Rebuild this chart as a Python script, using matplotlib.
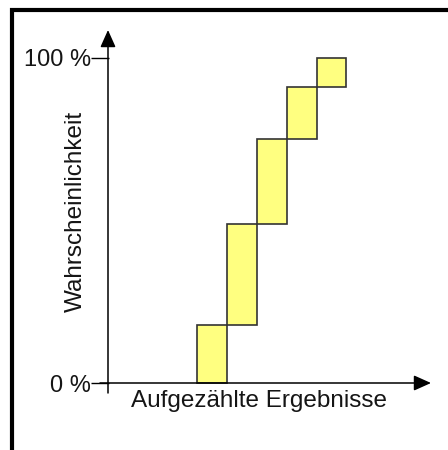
import numpy as np
import matplotlib
matplotlib.use("Agg")
import matplotlib.pyplot as plt
from matplotlib.patches import Rectangle

plt.rcParams["font.family"] = ["Liberation Sans", "DejaVu Sans"]

# counted outcomes (position on the x axis) and their probability in %
OUTCOMES = [3, 4, 5, 6, 7]
PROB = [18, 31, 26, 16, 9]
YTICKS = [0, 100]
YTICK_LABELS = ["0 %", "100 %"]
XLABEL = "Aufgezählte Ergebnisse"
YLABEL = "Wahrscheinlichkeit"

BAR_COLOR = "#ffff80"
EDGE = "#333333"
TEXT = "#151515"

W, H, DPI = 448, 450, 100
fig = plt.figure(figsize=(W / DPI, H / DPI), dpi=DPI)

# axes box in pixels: left 100 .. right 431 (arrow tip), top 30 (arrow tip) .. bottom 393
ax = fig.add_axes([100 / W, (H - 393) / H, (431 - 100) / W, (393 - 30) / H])
px_x = 29.8   # px per outcome
px_y = 3.25   # px per percent
ax.set_xlim(-8 / px_x, (431 - 108) / px_x)
ax.set_ylim(-(393 - 383) / px_y, 100 + (58 - 30) / px_y)
for s in ax.spines.values():
    s.set_visible(False)

bottoms = np.concatenate([[0], np.cumsum(PROB)[:-1]])
ax.bar(OUTCOMES, PROB, bottom=bottoms, width=1, align="edge",
       color=BAR_COLOR, edgecolor=EDGE, linewidth=1.2, zorder=2)

xmin, xmax = ax.get_xlim()
ymin, ymax = ax.get_ylim()
arrow = dict(arrowstyle="-|>,head_length=1.05,head_width=0.47", lw=1.1,
             color="black", shrinkA=0, shrinkB=0)
ax.annotate("", xy=(xmax, 0), xytext=(xmin, 0), arrowprops=arrow,
            annotation_clip=False, zorder=3)
ax.annotate("", xy=(0, ymax), xytext=(0, ymin), arrowprops=arrow,
            annotation_clip=False, zorder=3)

ax.set_xticks([])
ax.set_yticks(YTICKS)
ax.set_yticklabels(YTICK_LABELS)
ax.tick_params(axis="y", direction="inout", length=13, width=1.0,
               pad=0, labelsize=17, labelcolor=TEXT)

ax.text(0.48, -0.022, XLABEL, transform=ax.transAxes, ha="center",
        va="center", fontsize=17.5, color=TEXT)
ax.text(-0.073, 0.5, YLABEL, transform=ax.transAxes, ha="center",
        va="center", rotation=90, fontsize=17.5, color=TEXT)

# outer frame, cut off at right and bottom edge
fig.add_artist(Rectangle((12 / W, -0.05), 1.1, 1 - 10 / H + 0.05,
                         transform=fig.transFigure, fill=False,
                         edgecolor="black", linewidth=3))

fig.savefig("out.png", dpi=DPI)
